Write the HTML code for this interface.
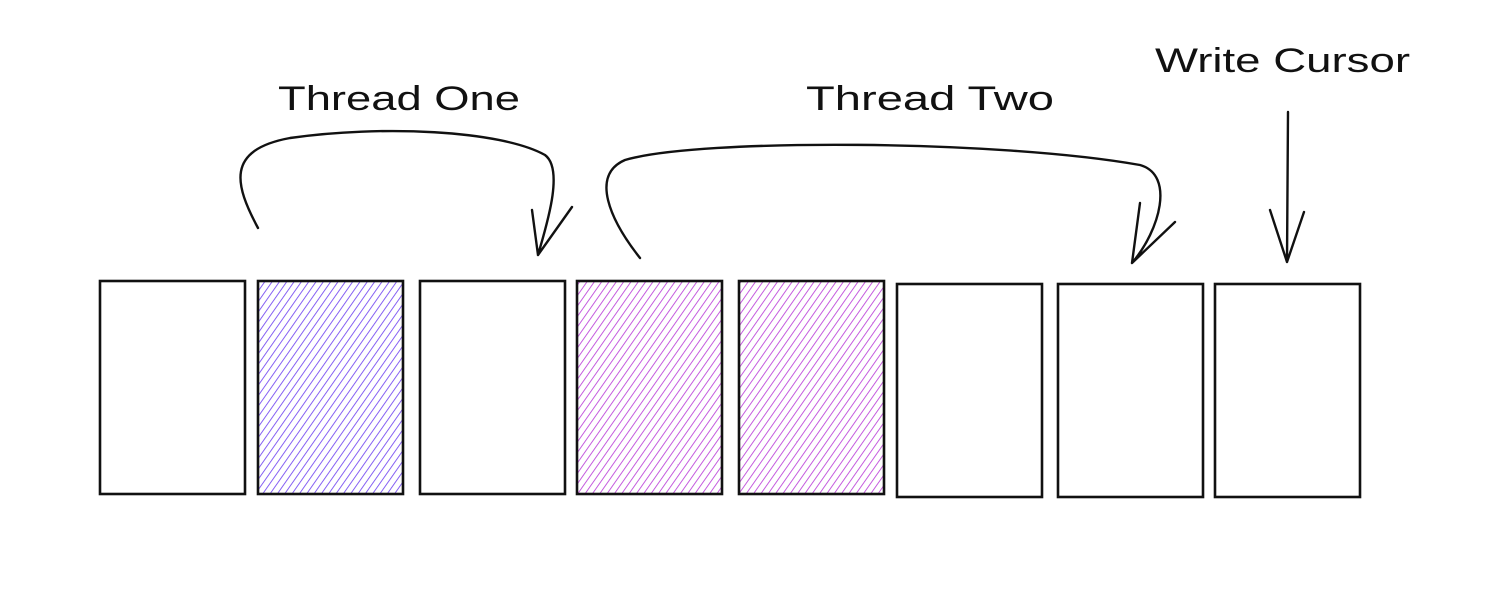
<!DOCTYPE html>
<html><head><meta charset="utf-8"><style>
html,body{margin:0;padding:0;background:#fff;}
svg{display:block;}
text{font-family:"Liberation Sans",sans-serif;font-size:34px;fill:#111;}
</style></head><body>
<svg id="c" width="1506" height="604" viewBox="0 0 1506 604">
<defs>
<pattern id="hb" width="6" height="6" patternUnits="userSpaceOnUse" patternTransform="rotate(35)"><line x1="0" y1="0" x2="0" y2="6" stroke="#7950f2" stroke-width="1.8"/></pattern>
<pattern id="hp" width="6" height="6" patternUnits="userSpaceOnUse" patternTransform="rotate(35)"><line x1="0" y1="0" x2="0" y2="6" stroke="#be4bdb" stroke-width="1.8"/></pattern>
</defs>
<g id="boxes"></g>
<g fill="none" stroke="#111" stroke-width="2.4" stroke-linecap="round">
<path d="M258 228 C235 185 225 150 290 138 C380 125 500 130 545 155 C565 170 545 230 538 255 M538 255 L532 210 M538 255 L572 207"/>
<path d="M640 258 C610 220 590 175 625 160 C700 138 1000 140 1140 165 C1175 175 1160 230 1132 263 M1132 263 L1140 203 M1132 263 L1175 222"/>
<path d="M1288 112 L1287 262 M1287 262 L1270 210 M1287 262 L1304 212"/>
</g>
<text x="278" y="110" textLength="242" lengthAdjust="spacingAndGlyphs">Thread One</text>
<text x="806" y="110" textLength="248" lengthAdjust="spacingAndGlyphs">Thread Two</text>
<text x="1155" y="72" textLength="255" lengthAdjust="spacingAndGlyphs">Write Cursor</text>
</svg>
<script>
const slotLefts=[100,258,420,577,739,897,1058,1215];
const slotFills=['none','blue','none','purple','purple','none','none','none'];
const g=document.getElementById('boxes');
const ns='http://www.w3.org/2000/svg';
slotLefts.forEach((x,i)=>{
  const r=document.createElementNS(ns,'rect');
  const y=i>=5?284:281;
  r.setAttribute('x',x);r.setAttribute('y',y);r.setAttribute('width',145);r.setAttribute('height',213);
  r.setAttribute('fill',slotFills[i]==='blue'?'url(#hb)':slotFills[i]==='purple'?'url(#hp)':'#fff');
  r.setAttribute('stroke','#111');r.setAttribute('stroke-width','2.6');
  
  
  g.appendChild(r);
});
</script>
</body></html>
